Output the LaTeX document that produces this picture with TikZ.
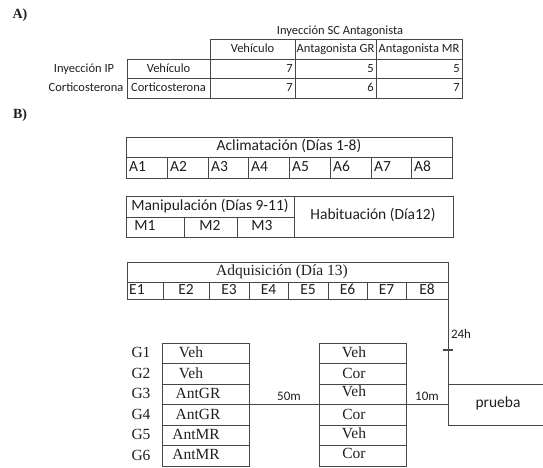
\documentclass[tikz,border=0pt]{standalone}
\usepackage{fontspec}
\setmainfont{Liberation Serif}
\newfontfamily\calib{Carlito}
\begin{document}
\begin{tikzpicture}[x=1pt,y=-1pt,
  ln/.style={draw=black!72, line width=0.9pt},
  box/.style={ln, rectangle, inner sep=0pt, outer sep=0pt, anchor=north west},
  txt/.style={inner sep=0pt, text=black!88, text height=0.75em, text depth=0.11em},
  ca/.style={txt, font=\calib\fontsize{12.5}{14}\selectfont},
  cb/.style={txt, font=\calib\fontsize{15.5}{17}\selectfont},
  cs/.style={txt, font=\calib\fontsize{13}{15}\selectfont},
  tb/.style={txt, font=\fontsize{15.5}{17}\selectfont},
  lbl/.style={txt, font=\bfseries\fontsize{14}{16}\selectfont}]
\useasboundingbox (0,0) rectangle (543,467);
\clip (0,0) rectangle (543,467);
% ---------------- A) ----------------
\node[lbl] (la) at (20,15) {A)};
\node[ca] (sc) at (340,31) {Inyección SC Antagonista};
\node[box, minimum width=252, minimum height=20] (hdr) at (210,39) {};
\node[box, minimum width=335, minimum height=39] (tab) at (127,59) {};
\draw[ln] (295,39) -- (295,98);
\draw[ln] (376,39) -- (376,98);
\draw[ln] (210,59) -- (210,98);
\draw[ln] (127,78) -- (462,78);
\node[ca] (h1) at (252.5,49) {Vehículo};
\node[ca] (h2) at (335.5,49) {Antagonista GR};
\node[ca] (h3) at (419,49) {Antagonista MR};
\node[ca] (r1l) at (84,69) {Inyección IP};
\node[ca] (r2l) at (86,88) {Corticosterona};
\node[ca] (r1c) at (168.5,69) {Vehículo};
\node[ca] (r2c) at (168.5,88) {Corticosterona};
\node[ca, anchor=east] (n11) at (293,69) {7};
\node[ca, anchor=east] (n12) at (374,69) {5};
\node[ca, anchor=east] (n13) at (460,69) {5};
\node[ca, anchor=east] (n21) at (293,88) {7};
\node[ca, anchor=east] (n22) at (374,88) {6};
\node[ca, anchor=east] (n23) at (460,88) {7};
% ---------------- B) ----------------
\node[lbl] (lb) at (20,115) {B)};
% Aclimatacion
\node[box, minimum width=326, minimum height=41] (acl) at (126,137) {};
\draw[ln] (126,157) -- (452,157);
\foreach \x in {167,208,248,289,330,371,411} \draw[ln] (\x,157) -- (\x,178);
\node[cb] (aclt) at (289,147) {Aclimatación (Días 1-8)};
\foreach \x/\t in {126/1,167/2,208/3,248/4,289/5,330/6,371/7,411/8}
  \node[cb, anchor=west] (a\t) at (\x+3,168) {A\t};
% Manipulacion / Habituacion
\node[box, minimum width=327, minimum height=41] (man) at (126,196) {};
\draw[ln] (294,196) -- (294,237);
\draw[ln] (126,217) -- (294,217);
\draw[ln] (184,217) -- (184,237);
\draw[ln] (237,217) -- (237,237);
\node[cb] (mant) at (210,207) {Manipulación (Días 9-11)};
\node[cb] (m1) at (145,227) {M1};
\node[cb] (m2) at (210,227) {M2};
\node[cb] (m3) at (262,227) {M3};
\node[cb] (hab) at (373,216) {Habituación (Día12)};
% Adquisicion
\node[box, minimum width=321, minimum height=37] (adq) at (127,262) {};
\draw[ln] (127,282) -- (448,282);
\foreach \x in {163,209,249,288,328,367,406} \draw[ln] (\x,282) -- (\x,299);
\node[tb] (adqt) at (282,272) {Adquisición (Día 13)};
\node[cb, anchor=west] (e1) at (129,291) {E1};
\foreach \x/\t in {186/2,229/3,268.5/4,308/5,347.5/6,386.5/7,427/8}
  \node[cb] (e\t) at (\x,291) {E\t};
% Groups
\node[box, minimum width=87, minimum height=123] (lbox) at (162,343) {};
\node[box, minimum width=87, minimum height=123] (rbox) at (319,343) {};
\foreach \y in {363.5,384,425,445.5} {
  \draw[ln] (162,\y) -- (249,\y);
  \draw[ln] (319,\y) -- (406,\y);
}
\node[box, minimum width=100, minimum height=41] (prueba) at (448,384) {};
\draw[ln] (lbox.west) -- (lbox.east);
\draw[ln] (rbox.west) -- (rbox.east);
\draw[ln] (lbox.east) -- (rbox.west);
\draw[ln] (rbox.east) -- (prueba.west);
\draw[ln] (adq.south east) -- (prueba.south west);
\coordinate (tk) at (448,350);
\draw[draw=black!72, line width=1.8pt] ([xshift=-5pt]tk) -- ([xshift=5pt]tk);
\node[cb] (pt) at (prueba.center) {prueba};
\node[cs] (t50) at (289,397) {50m};
\node[cs] (t10) at (427,397) {10m};
\node[cs] (t24) at (461,335) {24h};
\foreach \y/\g in {354/1,375/2,395.5/3,416/4,436/5,457/6}
  \node[tb] (g\g) at (141,\y) {G\g};
\node[tb] (l1) at (191,354) {Veh};
\node[tb] (l2) at (191,375) {Veh};
\node[tb] (l3) at (198,395) {AntGR};
\node[tb] (l4) at (198,416) {AntGR};
\node[tb] (l5) at (196,436) {AntMR};
\node[tb] (l6) at (196,456) {AntMR};
\node[tb] (q1) at (354,354) {Veh};
\node[tb] (q2) at (354,375) {Cor};
\node[tb] (q3) at (354,393) {Veh};
\node[tb] (q4) at (354,416) {Cor};
\node[tb] (q5) at (354,435) {Veh};
\node[tb] (q6) at (354,455) {Cor};
\end{tikzpicture}
\end{document}
